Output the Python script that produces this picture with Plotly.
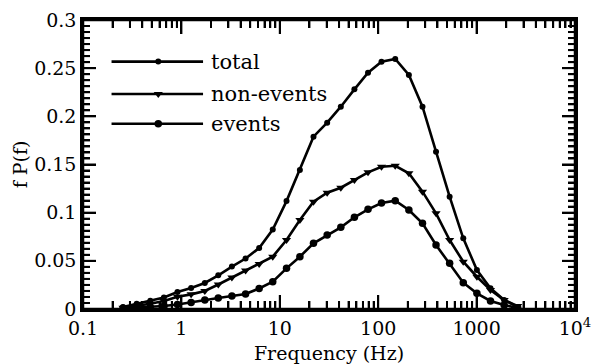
import math
import plotly.graph_objects as go

# Frequencies (Hz)
freq = [0.255, 0.351, 0.483, 0.664, 0.912, 1.255, 1.73, 2.37, 3.26, 4.49,
        6.17, 8.48, 11.7, 16.0, 22.0, 30.3, 41.7, 57.3, 78.8, 108,
        149, 205, 282, 387, 532, 732, 1007, 1384, 1905, 2618]

total = [0.002, 0.0055, 0.0085, 0.012, 0.0176, 0.0218, 0.027, 0.035, 0.044, 0.0524,
         0.0633, 0.0825, 0.112, 0.1443, 0.1789, 0.1934, 0.210, 0.228, 0.2453, 0.2567,
         0.2595, 0.2429, 0.210, 0.1633, 0.1166, 0.0734, 0.0405, 0.0215, 0.0093, 0.002]

non_events = [0.0012, 0.0032, 0.0055, 0.0082, 0.0128, 0.0152, 0.0187, 0.0254, 0.0327, 0.040,
              0.0467, 0.0543, 0.0716, 0.0924, 0.1114, 0.1207, 0.1259, 0.1339, 0.1419, 0.1477,
              0.1487, 0.1409, 0.1218, 0.0993, 0.0716, 0.0491, 0.0335, 0.0197, 0.0093, 0.003]

events = [0.0008, 0.0015, 0.002, 0.0031, 0.0047, 0.0067, 0.0093, 0.0114, 0.0135, 0.0156,
          0.0213, 0.0283, 0.0422, 0.0543, 0.0682, 0.0768, 0.0848, 0.0952, 0.1035, 0.110,
          0.1124, 0.1028, 0.089, 0.0664, 0.0474, 0.0273, 0.0163, 0.0083, 0.0042, 0.001]

x_tickvals = [0.1, 1, 10, 100, 1000, 10000]
x_ticktext = ["0.1", "1", "10", "100", "1000", "10<sup>4</sup>"]
y_tickvals = [0, 0.05, 0.1, 0.15, 0.2, 0.25, 0.3]
y_ticktext = ["0", "0.05", "0.1", "0.15", "0.2", "0.25", "0.3"]
series_names = ["total", "non-events", "events"]

FONT = "DejaVu Serif"
W, H = 594, 364
ML, MR, MT, MB = 83, 19, 20, 55
PW, PH = W - ML - MR, H - MT - MB          # plot area in px
XMIN, XMAX = 0.1, 10000
YMIN, YMAX = 0.0, 0.3
X_MAJ, X_MIN_LEN, Y_MAJ, Y_MIN_LEN = 14, 8, 13, 7
Y_MINOR_STEP = 0.05 / 8

fig = go.Figure()

styles = {
    "total": dict(symbol="circle", size=6),
    "non-events": dict(symbol="triangle-down", size=8),
    "events": dict(symbol="circle", size=7.5),
}
for name, vals in zip(series_names, [total, non_events, events]):
    st = styles[name]
    fig.add_trace(go.Scatter(
        x=freq, y=vals, mode="lines+markers", name=name,
        line=dict(color="black", width=2.6),
        marker=dict(color="black", symbol=st["symbol"], size=st["size"]),
        showlegend=False, cliponaxis=False, hoverinfo="x+y",
    ))

# ---- axis frame and tick marks (decoration, drawn as one line trace) ----
y_per_px = (YMAX - YMIN) / PH
x_fac_per_px = 10 ** ((math.log10(XMAX) - math.log10(XMIN)) / PW)

tx, ty = [], []
def xtick(v, length):
    d = length * y_per_px
    tx.extend([v, v, None, v, v, None])
    ty.extend([YMIN, YMIN + d, None, YMAX, YMAX - d, None])

def ytick(v, length):
    f = x_fac_per_px ** length
    tx.extend([XMIN, XMIN * f, None, XMAX, XMAX / f, None])
    ty.extend([v, v, None, v, v, None])

for v in x_tickvals:
    xtick(v, X_MAJ)
for d in range(-1, 4):
    for m in range(2, 10):
        xtick(m * 10.0 ** d, X_MIN_LEN)
for v in y_tickvals:
    ytick(v, Y_MAJ)
for i in range(len(y_tickvals) - 1):
    for j in range(1, 8):
        ytick(y_tickvals[i] + j * Y_MINOR_STEP, Y_MIN_LEN)

fig.add_trace(go.Scatter(x=tx, y=ty, mode="lines", line=dict(color="black", width=2),
                         showlegend=False, hoverinfo="skip", cliponaxis=False))
fig.add_trace(go.Scatter(x=[XMIN, XMAX, XMAX, XMIN, XMIN], y=[YMIN, YMIN, YMAX, YMAX, YMIN],
                         mode="lines", line=dict(color="black", width=2.5),
                         showlegend=False, hoverinfo="skip", cliponaxis=False))

# ---- hand-drawn legend (positions as plot-area fractions on an overlay axis) ----
leg_rows = [0.856, 0.744, 0.641]
leg_x0, leg_x1, leg_xm, leg_tx = 0.058, 0.244, 0.153, 0.256
for name, yy in zip(series_names, leg_rows):
    st = styles[name]
    fig.add_trace(go.Scatter(
        x=[leg_x0, leg_xm, leg_x1], y=[yy, yy, yy], xaxis="x2", yaxis="y2",
        mode="lines", line=dict(color="black", width=2.6),
        showlegend=False, hoverinfo="skip", cliponaxis=False))
    fig.add_trace(go.Scatter(
        x=[leg_xm], y=[yy], xaxis="x2", yaxis="y2", mode="markers",
        marker=dict(color="black", symbol=st["symbol"], size=st["size"]),
        showlegend=False, hoverinfo="skip", cliponaxis=False))
    fig.add_annotation(xref="x2", yref="y2", x=leg_tx, y=yy, text=name, showarrow=False,
                       xanchor="left", yanchor="middle",
                       font=dict(family=FONT, size=21, color="black"))

fig.update_layout(
    template="none",
    width=W, height=H,
    margin=dict(l=ML, r=MR, t=MT, b=MB),
    paper_bgcolor="white", plot_bgcolor="white",
    font=dict(family=FONT, size=19, color="black"),
    xaxis=dict(
        type="log", range=[math.log10(XMIN), math.log10(XMAX)], automargin=False,
        tickvals=x_tickvals, ticktext=x_ticktext,
        ticks="inside", ticklen=X_MAJ, tickwidth=2, tickcolor="black",
        minor=dict(dtick="D1", ticks="inside", ticklen=X_MIN_LEN, tickwidth=2, tickcolor="black"),
        showline=True, linewidth=2.5, linecolor="black", mirror="allticks",
        showgrid=False, zeroline=False,
        tickfont=dict(family=FONT, size=19, color="black"),
        title=dict(text="Frequency (Hz)", font=dict(family=FONT, size=19, color="black"), standoff=12),
    ),
    yaxis=dict(
        range=[YMIN, YMAX], automargin=False,
        tickvals=y_tickvals, ticktext=y_ticktext,
        ticks="inside", ticklen=Y_MAJ, tickwidth=2, tickcolor="black",
        minor=dict(tick0=0, dtick=Y_MINOR_STEP, ticks="inside", ticklen=Y_MIN_LEN,
                   tickwidth=2, tickcolor="black"),
        showline=True, linewidth=2.5, linecolor="black", mirror="allticks",
        showgrid=False, zeroline=False,
        tickfont=dict(family=FONT, size=19, color="black"),
        title=dict(text="f P(f)", font=dict(family=FONT, size=19, color="black"), standoff=2),
    ),
    xaxis2=dict(overlaying="x", range=[0, 1], visible=False, fixedrange=True),
    yaxis2=dict(overlaying="y", range=[0, 1], visible=False, fixedrange=True),
)

fig.write_html("out.html")
